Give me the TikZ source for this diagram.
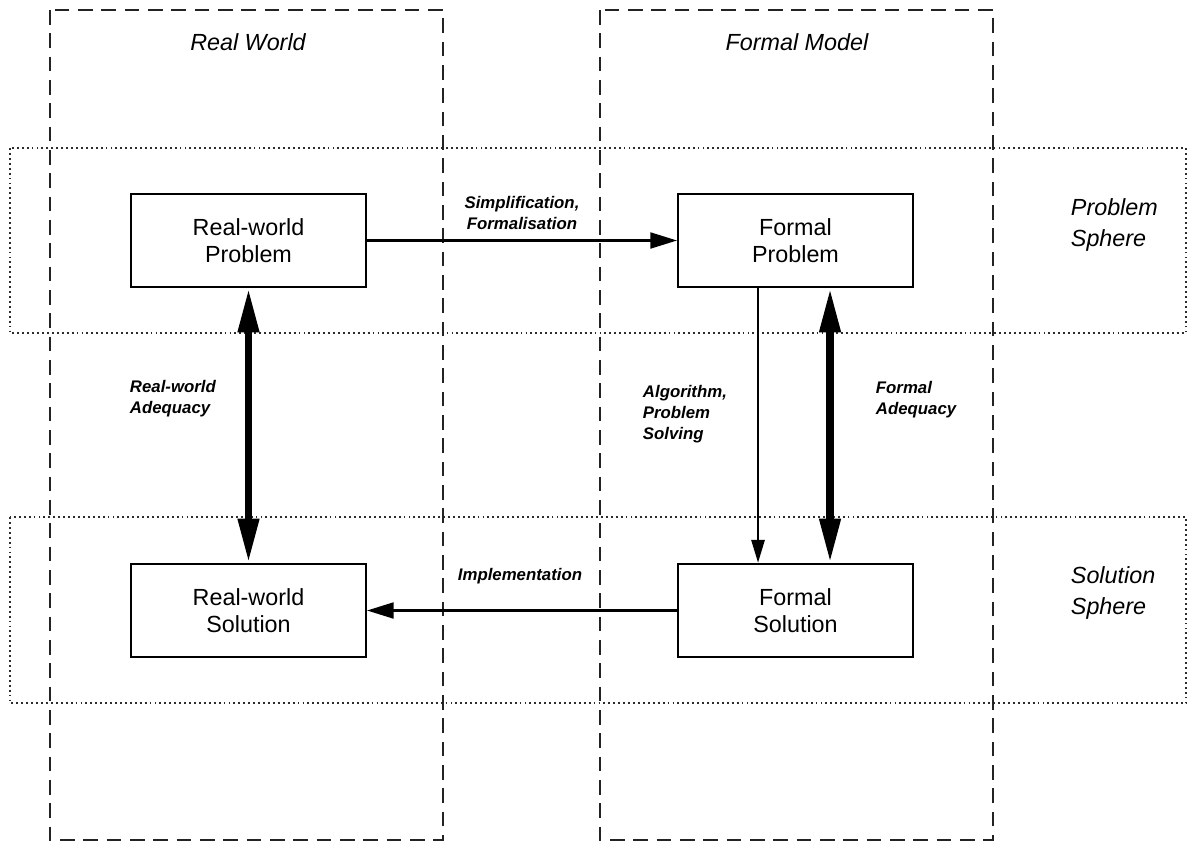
\documentclass[tikz,border=0pt]{standalone}
\usepackage{fontspec}
\setmainfont{Liberation Sans}
\usetikzlibrary{arrows.meta}
\tikzset{every picture/.style={line width=0.75pt}}

\begin{document}
\begin{tikzpicture}[x=0.75pt,y=0.75pt,yscale=-1,xscale=1,
	column/.style={color={rgb, 255:red, 35; green, 35; blue, 35 }, line width=1.9pt, dash pattern={on 11pt off 6.5pt}},
	sphere/.style={color={rgb, 255:red, 45; green, 45; blue, 45 }, line width=1.5pt, dash pattern={on 1.4pt off 2.3pt}},
	box/.style={draw, line width=1.8pt, minimum width=176pt, minimum height=70pt, align=center, font=\fontsize{17.5}{20.5}\selectfont},
	head/.style={font=\fontsize{17.5}{23}\selectfont\itshape, align=left},
	lbl/.style={font=\fontsize{12.6}{15.6}\selectfont\bfseries\itshape, align=left},
	thin/.style={line width=1.6pt, -{Triangle[length=20pt,width=12pt]}},
	fine/.style={line width=1.2pt, -{Triangle[length=17pt,width=10pt]}},
	thick/.style={line width=5.5pt, {Triangle[length=33pt,width=15pt]}-{Triangle[length=33pt,width=15pt]}}
	]
	\useasboundingbox (0,0) rectangle (1189,840);
	\fill[white] (0,0) rectangle (1189,840);
	
	%Dotted Rectangles
	\draw [sphere] (10,148) rectangle (1186,333);
	\draw [sphere] (10,517) rectangle (1186,703);
	
	%Dashed Rectangles
	\draw [column] (50,10) rectangle (443,840);
	\draw [column] (600,10) rectangle (993,840);
	
	% Text Node
	\node [head] (rwhead) at (248,42) {Real World};
	% Text Node
	\node [head] (fmhead) at (797,42) {Formal Model};
	% Text Node
	\node [head, anchor=west] (psphere) at (1066,225) {Problem\\Sphere};
	% Text Node
	\node [head, anchor=west] (ssphere) at (1066,593) {Solution\\Sphere};
	
	% Boxes
	\node [box] (rwp) at (248.5,240.5) {Real-world\\Problem};
	\node [box] (fp) at (795.5,240.5) {Formal\\Problem};
	\node [box] (rws) at (248.5,610.5) {Real-world\\Solution};
	\node [box] (fs) at (795.5,610.5) {Formal\\Solution};
	
	%Straight Lines
	\draw [thin] (rwp.east) -- (fp.west);
	\draw [thin] (fs.west) -- (rws.east);
	\draw [thick] (rwp.south) -- (rws.north);
	\draw [thick] ([xshift=25.9pt]fp.south) -- ([xshift=25.9pt]fs.north);
	\draw [fine] ([xshift=-28.1pt]fp.south) -- ([xshift=-28.1pt]fs.north);
	
	% Text Node
	\node [lbl, align=center] (simp) at (522,213) {Simplification,\\Formalisation};
	% Text Node
	\node [lbl] (impl) at (520,576) {Implementation};
	% Text Node
	\node [lbl, anchor=west] (rwadq) at (125,399) {Real-world\\Adequacy};
	% Text Node
	\node [lbl, anchor=west] (fadq) at (871,400) {Formal\\Adequacy};
	% Text Node
	\node [lbl, anchor=west] (algo) at (638,414) {Algorithm,\\Problem\\Solving};
	
\end{tikzpicture}
\end{document}
